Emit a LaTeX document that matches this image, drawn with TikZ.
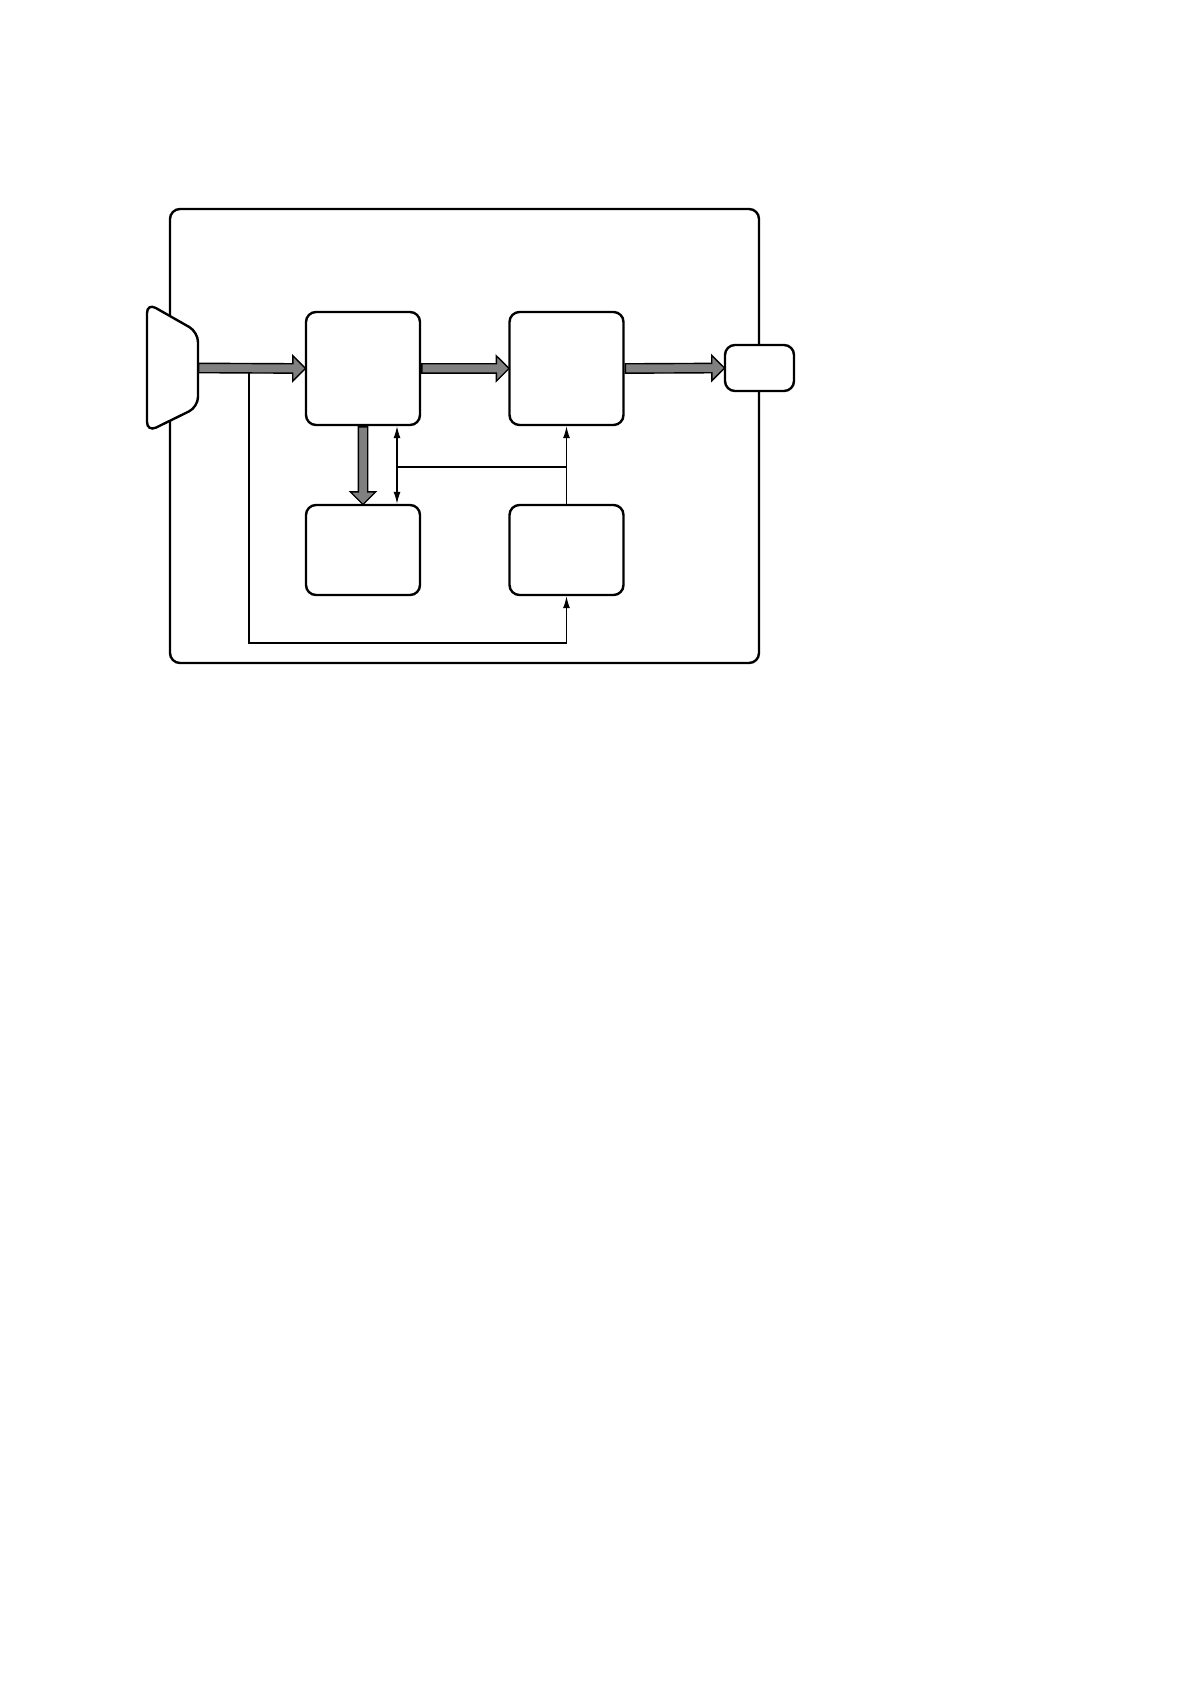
\documentclass[tikz,border=0pt]{standalone}
\usetikzlibrary{shapes.arrows,calc,arrows.meta}

\tikzset{
  block/.style={draw, rounded corners=5pt, line width=1.2pt, fill=white,
    minimum width=57pt, minimum height=56.5pt, inner sep=0pt},
  lowblock/.style={block, minimum height=45pt},
  fatarrow/.style={single arrow, draw, fill=gray, line width=0.7pt, inner sep=0pt,
    text height=4pt, text depth=0pt, minimum width=12pt,
    single arrow head extend=4pt, anchor=tail},
  wire/.style={line width=0.6pt},
  tip/.style={-{Latex[length=6pt,width=3.5pt]}},
}
% wide bus arrow from one point to another
\newcommand{\busarrow}[2]{%
  \path let \p1=($(#2)-(#1)$), \n1={atan2(\y1,\x1)}, \n2={veclen(\x1,\y1)} in
    node[fatarrow, minimum height=\n2, rotate=\n1] at (#1) {};}

\begin{document}
\begin{tikzpicture}[x=0.5pt,y=-0.5pt]
  \useasboundingbox (0,0) rectangle (1190,1684);
  % outer frame
  \node[draw, rounded corners=5pt, line width=1.2pt, minimum width=294.5pt,
    minimum height=227pt] (frame) at (464.5,436) {};
  % input port
  \draw[line width=1.2pt, rounded corners=5pt, fill=white]
    (147,368) -- (147,303) -- (198,332) -- (198,407) -- (147,432) -- cycle;
  \coordinate (src) at (198,368);
  % blocks
  \node[block] (box1) at (363,368.5) {};
  \node[block] (box2) at (566.5,368.5) {};
  \node[lowblock] (box3) at (363,550) {};
  \node[lowblock] (box4) at (566.5,550) {};
  % output port
  \node[block, minimum width=34.5pt, minimum height=23pt] (out) at (759.5,368) {};
  % feed line (under the bus arrow)
  \coordinate (split) at (249,368);
  \coordinate (bend) at (249,643);
  \draw[wire, tip] (split) -- (bend) -- (bend -| box4.south) -- (box4.south);
  % bus arrows
  \busarrow{src}{box1.west}
  \busarrow{box1.east}{box2.west}
  \busarrow{box2.east}{out.west}
  \busarrow{box1.south}{box3.north}
  % control lines
  \coordinate (tap) at (397,467);
  \draw[wire, {Latex[length=6pt,width=3.5pt]}-{Latex[length=6pt,width=3.5pt]}]
    (tap |- box1.south) -- (tap |- box3.north);
  \draw[wire] (tap) -- (tap -| box2.south);
  \draw[wire, tip] (box4.north) -- (box2.south);
\end{tikzpicture}
\end{document}
